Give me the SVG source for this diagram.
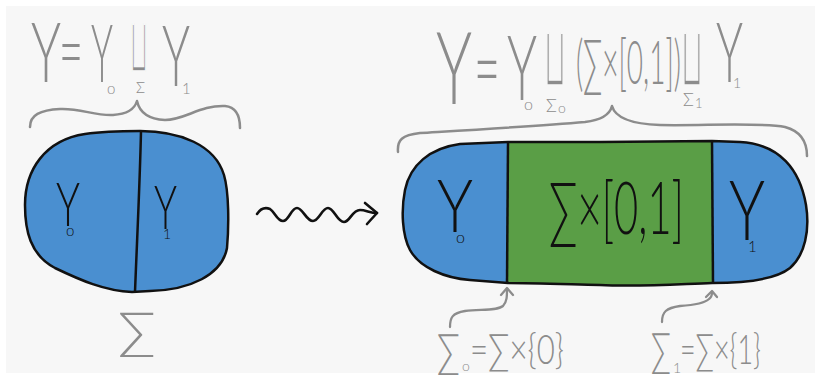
<svg xmlns="http://www.w3.org/2000/svg" width="821" height="379" viewBox="0 0 821 379">
<defs>
<style>
.g{fill:#8c8c8c;font-family:"Lato","Open Sans","DejaVu Sans",sans-serif;font-weight:300}
.k{fill:#111;font-family:"Lato","Open Sans","DejaVu Sans",sans-serif;font-weight:300}
.cup{fill:#8c8c8c;font-family:"DejaVu Sans",sans-serif;stroke:#f7f7f7;stroke-width:3.6}
.br{fill:none;stroke:#8c8c8c;stroke-width:2.5;stroke-linecap:round;stroke-linejoin:round}
.edge{fill:none;stroke:#111;stroke-width:2.5;stroke-linejoin:round}
.blue{fill:#4a8fd0}
.green{fill:#5a9e46}
.sq{fill:none;stroke:#111;stroke-width:2.6;stroke-linecap:round;stroke-linejoin:round}
.ga{fill:none;stroke:#8c8c8c;stroke-width:2.3;stroke-linecap:round;stroke-linejoin:round}
</style>
</defs>
<rect width="821" height="379" fill="#ffffff"/>
<rect x="6" y="6" width="809" height="367" fill="#f7f7f7"/>

<!-- left formula -->
<g id="formula-left">
<text class="g" x="31" y="82" font-size="82" textLength="30" lengthAdjust="spacingAndGlyphs">Y</text>
<text class="g" x="59" y="80" font-size="82" textLength="24" lengthAdjust="spacingAndGlyphs">=</text>
<text class="g" x="91" y="82" font-size="80" textLength="22" lengthAdjust="spacingAndGlyphs">Y</text>
<text class="g" x="107" y="94" font-size="15">o</text>
<text class="cup" x="130" y="72" font-size="78" textLength="18" lengthAdjust="spacingAndGlyphs">⊔</text>
<text class="g" x="136" y="93" font-size="15">Σ</text>
<text class="g" x="162" y="86" font-size="84" textLength="28" lengthAdjust="spacingAndGlyphs">Y</text>
<text class="g" x="182" y="94" font-size="15">1</text>
</g>
<g id="brace-left">
<path class="br" d="M30,127 C30,115 40,110 60,109 C80,108 95,116 113,115 C128,114 135,108 137,101 C139,110 145,119 165,120 C185,120 200,105 225,106 C236,107 240,115 240,128"/>
</g>

<!-- left blob -->
<g id="node-left">
<path class="blue" d="M140,131 C180,131 215,145 224,175 C229,192 229,225 227,248 C222,275 190,290 150,291 L132,292 C105,291 80,280 55,268 C30,255 25,230 25,205 C25,170 45,140 85,134 C105,131 125,131 140,131 Z"/>
<path class="edge" d="M140,131 C180,131 215,145 224,175 C229,192 229,225 227,248 C222,275 190,290 150,291 L132,292 C105,291 80,280 55,268 C30,255 25,230 25,205 C25,170 45,140 85,134 C105,131 125,131 140,131 Z"/>
<path class="edge" d="M141,131 C140,180 137,240 135,292"/>
<text class="k" x="56" y="226" font-size="62" textLength="24" lengthAdjust="spacingAndGlyphs">Y</text>
<text class="k" x="66" y="236" font-size="15">o</text>
<text class="k" x="154" y="229" font-size="62" textLength="23" lengthAdjust="spacingAndGlyphs">Y</text>
<text class="k" x="163" y="239" font-size="14">1</text>
</g>
<g id="label-sigma">
<text class="g" x="118" y="348" font-size="50" textLength="38" lengthAdjust="spacingAndGlyphs">∑</text>
</g>

<!-- right formula -->
<g id="formula-right">
<text class="g" x="436" y="104" font-size="100" textLength="36" lengthAdjust="spacingAndGlyphs">Y</text>
<text class="g" x="474" y="100" font-size="90" textLength="26" lengthAdjust="spacingAndGlyphs">=</text>
<text class="g" x="507" y="100" font-size="90" textLength="30" lengthAdjust="spacingAndGlyphs">Y</text>
<text class="g" x="524" y="110" font-size="16">o</text>
<text class="cup" x="544" y="86" font-size="86" textLength="22" lengthAdjust="spacingAndGlyphs" stroke-width="4">⊔</text>
<text class="g" x="546" y="112" font-size="18">Σ</text>
<text class="g" x="558" y="113" font-size="14">o</text>
<text class="g" x="576" y="84" font-size="62" textLength="105" lengthAdjust="spacingAndGlyphs">(∑×[0,1])</text>
<text class="cup" x="681" y="86" font-size="86" textLength="22" lengthAdjust="spacingAndGlyphs" stroke-width="4">⊔</text>
<text class="g" x="683" y="106" font-size="18">Σ</text>
<text class="g" x="695" y="108" font-size="13">1</text>
<text class="g" x="716" y="82" font-size="82" textLength="27" lengthAdjust="spacingAndGlyphs">Y</text>
<text class="g" x="733" y="88" font-size="14">1</text>
</g>
<g id="brace-right">
<path class="br" d="M398,152 C397,140 402,135 420,133 C470,130 540,126 585,122 C602,120 610,114 612,106 C615,117 630,124 660,125 C700,126 760,122 785,127 C800,131 807,140 807,156"/>
</g>

<!-- right blob -->
<g id="node-right">
<path class="blue" d="M508,142 L460,144 C430,148 410,165 405,190 C401,210 402,235 410,250 C420,268 445,278 470,280 L508,283 Z"/>
<path class="green" d="M508,142 L712,141 L712,283 C680,284 640,287 600,285 C560,284 530,283 508,283 Z"/>
<path class="blue" d="M712,141 L740,142 C780,144 800,170 806,205 C810,230 805,255 790,268 C775,280 740,283 712,283 Z"/>
<path class="edge" d="M508,142 L460,144 C430,148 410,165 405,190 C401,210 402,235 410,250 C420,268 445,278 470,280 L508,283 C530,283 560,284 600,285 C640,287 680,284 712,283 C740,283 775,280 790,268 C805,255 810,230 806,205 C800,170 780,144 740,142 L712,141 L600,142 Z"/>
<path class="edge" d="M508,142 L507,283"/>
<path class="edge" d="M712,141 L713,283"/>
<text class="k" x="437" y="232" font-size="72" textLength="36" lengthAdjust="spacingAndGlyphs">Y</text>
<text class="k" x="456" y="243" font-size="16">o</text>
<text class="k" x="549" y="234" font-size="72" textLength="135" lengthAdjust="spacingAndGlyphs">∑×[0,1]</text>
<text class="k" x="729" y="240" font-size="82" textLength="36" lengthAdjust="spacingAndGlyphs">Y</text>
<text class="k" x="748" y="252" font-size="15">1</text>
</g>

<!-- bottom labels -->
<g id="label-sigma0">
<text class="g" x="437" y="367" font-size="46" textLength="23" lengthAdjust="spacingAndGlyphs">∑</text>
<text class="g" x="462" y="371" font-size="14">o</text>
<text class="g" x="470" y="364" font-size="42" textLength="94" lengthAdjust="spacingAndGlyphs">=∑×{0}</text>
</g>
<g id="label-sigma1">
<text class="g" x="651" y="366" font-size="46" textLength="20" lengthAdjust="spacingAndGlyphs">∑</text>
<text class="g" x="673" y="373" font-size="14">1</text>
<text class="g" x="680" y="364" font-size="42" textLength="81" lengthAdjust="spacingAndGlyphs">=∑×{1}</text>
</g>

<!-- connectors -->
<g id="connectors">
<path class="sq" d="M257,214 C261,208 265,207 270,209 C275,212 277,221 283,221 C289,221 291,208 297,208 C303,208 306,221 313,221 C319,221 322,208 328,208 C334,208 337,222 344,222 C350,222 352,210 360,210 C366,210 370,213 377,213"/>
<path class="sq" d="M365,203 L377,213 L367,224"/>
<path class="ga" d="M450,327 C450,318 452,313 465,311 C480,309 497,311 503,306 C507,302 507,296 507,289"/>
<path class="ga" d="M501,295 L507,288 L513,295"/>
<path class="ga" d="M662,322 C662,312 666,308 680,306 C695,305 705,303 709,299 C712,297 712,295 712,292"/>
<path class="ga" d="M706,297 L712,291 L717,297"/>
</g>
</svg>
